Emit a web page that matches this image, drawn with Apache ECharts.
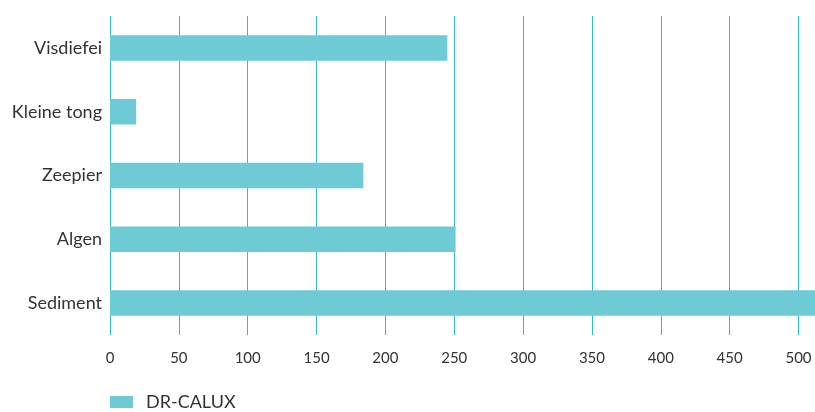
<!DOCTYPE html>
<html>
<head>
<meta charset="utf-8">
<script src="https://cdn.jsdelivr.net/npm/echarts@6/dist/echarts.min.js"></script>
<style>
html,body{margin:0;padding:0;background:#fff;}
#chart{width:815px;height:412px;}
</style>
</head>
<body>
<div id="chart"></div>
<script>
const categories = ["Visdiefei", "Kleine tong", "Zeepier", "Algen", "Sediment"];
const seriesName = "DR-CALUX";
const values = [245, 19, 184, 251, 515];
const xMin = 0;
const xMax = 512;
const xInterval = 50;

const chart = echarts.init(document.getElementById('chart'), null, {renderer: 'canvas'});
chart.setOption({
  animation: false,
  backgroundColor: '#ffffff',
  textStyle: {fontFamily: 'Lato'},
  grid: {left: 110, right: 0, top: 16, bottom: 77, containLabel: false},
  legend: {
    data: [seriesName],
    left: 105,
    top: 388,
    itemWidth: 23,
    itemHeight: 12,
    icon: 'rect',
    textStyle: {fontFamily: 'Lato', fontSize: 18, color: '#333333', padding: [0, 0, 0, 8]}
  },
  xAxis: {
    type: 'value',
    min: xMin,
    max: xMax,
    interval: xInterval,
    axisLine: {show: false},
    axisTick: {show: false},
    axisLabel: {fontFamily: 'Lato', fontSize: 15, color: '#333333', margin: 16, showMaxLabel: false},
    splitLine: {show: true, showMaxLine: false, lineStyle: {color: '#3ab9c6', width: 1}}
  },
  yAxis: {
    type: 'category',
    data: categories,
    inverse: true,
    axisLine: {show: false},
    axisTick: {show: false},
    axisLabel: {fontFamily: 'Lato', fontSize: 18, color: '#333333', margin: 8},
    splitLine: {show: false}
  },
  series: [{
    name: seriesName,
    type: 'bar',
    data: values,
    barWidth: '40%',
    clip: true,
    itemStyle: {color: '#6ecbd5'}
  }]
});
</script>
</body>
</html>
